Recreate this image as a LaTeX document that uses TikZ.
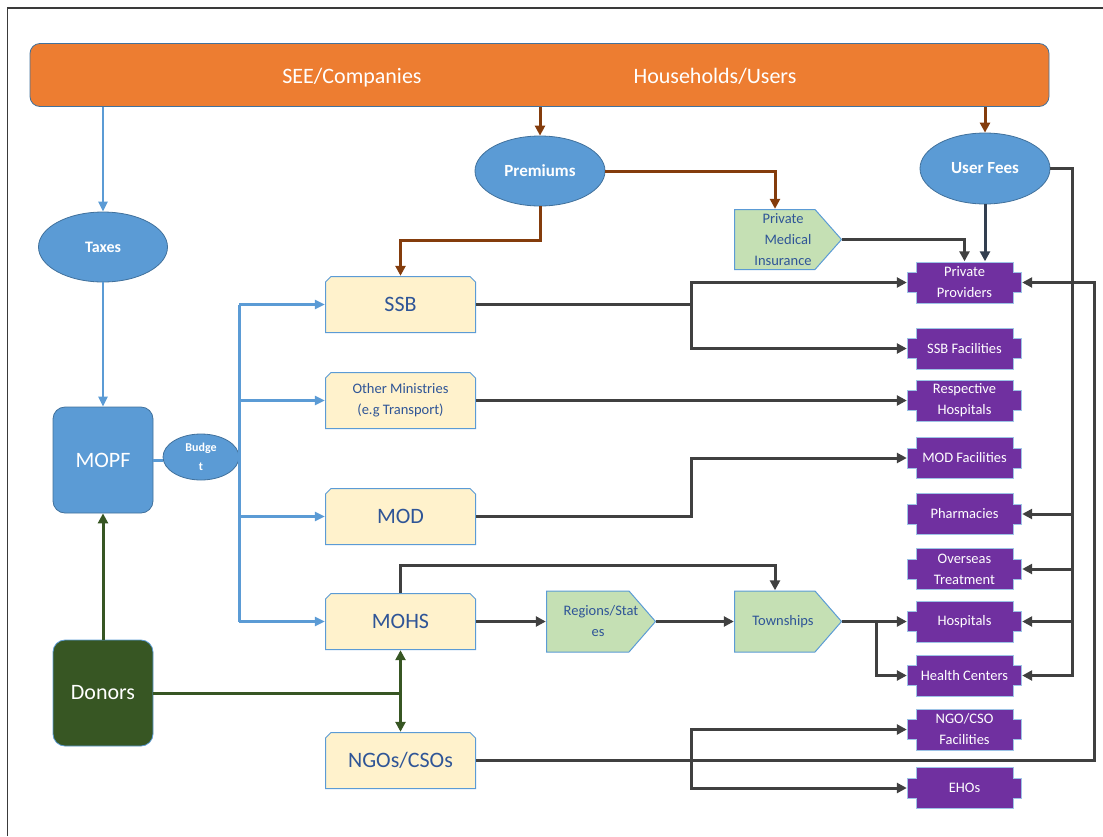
\documentclass[tikz,border=0pt]{standalone}
\usepackage{fontspec}
\setmainfont{Carlito}
\usetikzlibrary{shapes.geometric,arrows.meta,calc}
\definecolor{orangeF}{HTML}{ED7D31}
\definecolor{blueF}{HTML}{5B9BD5}
\definecolor{blueE}{HTML}{41719C}
\definecolor{beigeF}{HTML}{FFF2CC}
\definecolor{txtB}{HTML}{2F5597}
\definecolor{greenF}{HTML}{C5E0B4}
\definecolor{purpF}{HTML}{7030A0}
\definecolor{purpE}{HTML}{9DC3E6}
\definecolor{donorF}{HTML}{375623}
\definecolor{brownL}{HTML}{843C0C}
\definecolor{darkL}{HTML}{404040}
\definecolor{slateL}{HTML}{333F50}
\definecolor{frameL}{HTML}{3A3A3A}
\begin{document}
\begin{tikzpicture}[x=1pt,y=-1pt,
  tipA/.style={-{Triangle[length=10pt,width=10pt]}},
  bl/.style={draw=blueF,line width=2.5pt,-{Triangle[length=10pt,width=9pt]}},
  blplain/.style={draw=blueF,line width=2.5pt},
  br/.style={draw=brownL,line width=3pt,-{Triangle[length=10pt,width=10pt]}},
  dk/.style={draw=darkL,line width=3pt},
  dka/.style={dk,tipA},
  sl/.style={draw=slateL,line width=3pt,tipA},
  gr/.style={draw=donorF,line width=3pt},
  gra/.style={gr,tipA},
  bar/.style={rounded corners=10pt,fill=orangeF,draw=blueE,line width=0.8pt,minimum width=1019pt,minimum height=63pt,inner sep=0},
  bartxt/.style={text=white,font=\fontsize{22}{26}\selectfont,inner sep=0,anchor=base},
  bell/.style={ellipse,fill=blueF,draw=blueE,line width=0.8pt,inner sep=0,text=white,align=center},
  rr/.style={rounded corners=12pt,minimum width=100pt,minimum height=106pt,inner sep=0,text=white,font=\fontsize{22}{26}\selectfont,line width=0.8pt},
  beige/.style={minimum width=151pt,minimum height=57pt,inner sep=0,text=txtB,align=center,
    path picture={\path[fill=beigeF,draw=blueF,line width=1pt]
      ([shift={(0.5pt,0.5pt)}]path picture bounding box.south west) --
      ([shift={(0.5pt,-6pt)}]path picture bounding box.north west) --
      ([shift={(6pt,-0.5pt)}]path picture bounding box.north west) --
      ([shift={(-6pt,-0.5pt)}]path picture bounding box.north east) --
      ([shift={(-0.5pt,-6pt)}]path picture bounding box.north east) --
      ([shift={(-0.5pt,0.5pt)}]path picture bounding box.south east) -- cycle;}},
  penta/.style={minimum width=108pt,minimum height=62pt,inner sep=0,text=txtB,align=center,
    font=\fontsize{14.5}{21}\selectfont,
    path picture={\path[fill=greenF,draw=blueF,line width=1pt]
      ([shift={(0.5pt,-0.5pt)}]path picture bounding box.north west) --
      ([shift={(-27pt,-0.5pt)}]path picture bounding box.north east) --
      ([xshift=-0.5pt]path picture bounding box.east) --
      ([shift={(-27pt,0.5pt)}]path picture bounding box.south east) --
      ([shift={(0.5pt,0.5pt)}]path picture bounding box.south west) -- cycle;}},
  purp/.style={minimum width=115pt,minimum height=42pt,inner sep=0,text=white,align=center,
    font=\fontsize{14.5}{21}\selectfont,
    path picture={\path[fill=purpF,draw=purpE,line width=1pt]
      ([shift={(9pt,-0.5pt)}]path picture bounding box.north west) --
      ([shift={(-9pt,-0.5pt)}]path picture bounding box.north east) --
      ([shift={(-9pt,-11pt)}]path picture bounding box.north east) --
      ([shift={(-0.5pt,-11pt)}]path picture bounding box.north east) --
      ([shift={(-0.5pt,11pt)}]path picture bounding box.south east) --
      ([shift={(-9pt,11pt)}]path picture bounding box.south east) --
      ([shift={(-9pt,0.5pt)}]path picture bounding box.south east) --
      ([shift={(9pt,0.5pt)}]path picture bounding box.south west) --
      ([shift={(9pt,11pt)}]path picture bounding box.south west) --
      ([shift={(0.5pt,11pt)}]path picture bounding box.south west) --
      ([shift={(0.5pt,-11pt)}]path picture bounding box.north west) --
      ([shift={(9pt,-11pt)}]path picture bounding box.north west) -- cycle;}}
]
\useasboundingbox (0,0) rectangle (1103,836);
\draw[frameL,line width=1.5pt] (7.5,836) -- (7.5,8) -- (1103,8);

% top bar
\node[bar] (top) at (539.5,75) {};
\node[bartxt] (see) at (352,83) {SEE/Companies};
\node[bartxt] (hh) at (715,83) {Households/Users};

% ellipses
\node[bell,minimum width=129pt,minimum height=70pt,font=\bfseries\fontsize{16}{18}\selectfont] (taxes) at (103,247) {Taxes};
\node[bell,minimum width=130pt,minimum height=70pt,font=\bfseries\fontsize{17}{19}\selectfont] (prem) at (540,171) {Premiums};
\node[bell,minimum width=130pt,minimum height=71pt,font=\bfseries\fontsize{17}{19}\selectfont] (uf) at (985,168.5) {User Fees};
\node[bell,minimum width=76pt,minimum height=46pt,font=\bfseries\fontsize{12}{19}\selectfont] (budget) at (201,457) {Budge\\t};

% rounded boxes
\node[rr,fill=blueF,draw=blueE] (mopf) at (103,460) {MOPF};
\node[rr,fill=donorF,draw=blueF] (donors) at (103,693) {Donors};

% beige boxes
\node[beige,font=\fontsize{22}{26}\selectfont] (ssb) at (400.5,304.5) {SSB};
\node[beige,font=\fontsize{14.5}{21}\selectfont] (om) at (400.5,400.5) {Other Ministries\\(e.g Transport)};
\node[beige,font=\fontsize{22}{26}\selectfont] (mod) at (400.5,516.5) {MOD};
\node[beige,font=\fontsize{22}{26}\selectfont] (mohs) at (400.5,621.5) {MOHS};
\node[beige,font=\fontsize{22}{26}\selectfont] (ngo) at (400.5,760.5) {NGOs/CSOs};

% green pentagons
\node[penta,minimum width=110pt] (reg) at (601,621.5) {Regions/Stat\\es\hspace*{6pt}};
\node[penta] (tw) at (788,621.5) {Townships\hspace*{10pt}};
\node[penta,minimum height=61pt] (pmi) at (788,239.5) {Private\hspace*{10pt}\\Medical\hspace*{10pt}\\Insurance\hspace*{10pt}};

% purple nodes
\node[purp] (pp) at (964.5,282.5) {Private\\Providers};
\node[purp] (ssbf) at (964.5,348.5) {SSB Facilities};
\node[purp] (rh) at (964.5,400.5) {Respective\\Hospitals};
\node[purp] (modf) at (964.5,458) {MOD Facilities};
\node[purp] (ph) at (964.5,514) {Pharmacies};
\node[purp] (ot) at (964.5,569) {Overseas\\Treatment};
\node[purp] (hosp) at (964.5,621.5) {Hospitals};
\node[purp] (hc) at (964.5,675.5) {Health Centers};
\node[purp] (ngof) at (964.5,729.5) {NGO/CSO\\Facilities};
\node[purp] (eho) at (964.5,788) {EHOs};

% helper coordinates
\coordinate (x691) at (691,0);
\coordinate (x876) at (876,0);
\coordinate (x1072) at (1072,0);
\coordinate (x1094) at (1094,0);
\coordinate (pmiIn) at ($(pmi.north)+(-13,0)$);
\coordinate (twIn) at ($(tw.north)+(-13,0)$);

% blue connectors
\draw[bl] (taxes |- top.south) -- (taxes.north);
\draw[bl] (taxes.south) -- (mopf.north);
\draw[blplain,line width=3pt] (mopf.east) -- (mopf.east -| budget.west);
\draw[blplain] (budget.east |- ssb.west) -- (budget.east |- mohs.west);
\draw[bl] (budget.east |- ssb.west) -- (ssb.west);
\draw[bl] (budget.east |- om.west) -- (om.west);
\draw[bl] (budget.east |- mod.west) -- (mod.west);
\draw[bl] (budget.east |- mohs.west) -- (mohs.west);

% brown connectors
\draw[br] (prem |- top.south) -- (prem.north);
\draw[br] (uf |- top.south) -- (uf.north);
\draw[br] (prem.south) -- ($(prem.south)+(0,34)$) -| (ssb.north);
\draw[br] (prem.east) -| (pmiIn);

% dark connectors
\draw[sl] (uf.south) -- (uf.south |- pp.north);
\draw[dka] (pmi.east) -| (pp.north);
\draw[dka] (ssb.east) -- (ssb.east -| x691) |- (pp.west);
\draw[dka] (ssb.east -| x691) |- (ssbf.west);
\draw[dka] (om.east) -- (rh.west);
\draw[dka] (mod.east) -- (mod.east -| x691) |- (modf.west);
\draw[dka] (mohs.east) -- (reg.west);
\draw[dka] (reg.east) -- (tw.west);
\draw[dka] (tw.east) -- (hosp.west);
\draw[dka] (tw.east -| x876) |- (hc.west);
\draw[dka] (mohs.north) -- ($(mohs.north)+(0,-27)$) -| (twIn);
\draw[dka] (ngo.east) -- (ngo.east -| x1094) |- (pp.east);
\draw[dka] (ngo.east -| x691) |- (ngof.west);
\draw[dka] (ngo.east -| x691) |- (eho.west);
\draw[dka] (uf.east) -| (x1072 |- hc.east) -- (hc.east);
\draw[dka] (x1072 |- ph.east) -- (ph.east);
\draw[dka] (x1072 |- ot.east) -- (ot.east);
\draw[dka] (x1072 |- hosp.east) -- (hosp.east);

% green connectors
\draw[gra] (donors.north) -- (mopf.south);
\draw[gr] (donors.east) -- (donors.east -| mohs.south);
\draw[gra] (donors.east -| mohs.south) -- (mohs.south);
\draw[gra] (donors.east -| mohs.south) -- (ngo.north);
\end{tikzpicture}
\end{document}
